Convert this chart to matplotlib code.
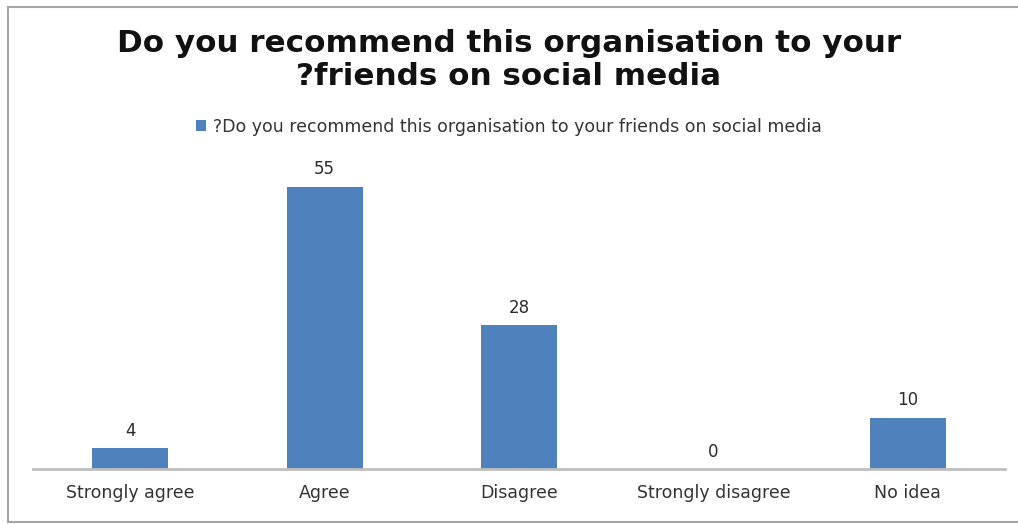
import matplotlib.pyplot as plt
from matplotlib.lines import Line2D

categories = ['Strongly agree', 'Agree', 'Disagree', 'Strongly disagree', 'No idea']
counts = [4, 55, 28, 0, 10]
series_name = '?Do you recommend this organisation to your friends on social media'
title = 'Do you recommend this organisation to your\n?friends on social media'

bar_color = '#4f81bd'

fig = plt.figure(figsize=(10.18, 5.24), dpi=100)
fig.patch.set_facecolor('white')

# chart frame: left, top and bottom edges
W, H = 1018, 524
for xs, ys in [([8, 8], [7, 522]), ([8, W], [7, 7]), ([8, W], [522, 522])]:
    fig.add_artist(Line2D([v / W for v in xs], [1 - v / H for v in ys],
                          transform=fig.transFigure, color='#a6a6a6', linewidth=1.5))

ax = fig.add_axes([33 / W, 1 - 469 / H, (1005 - 33) / W, 308 / H])
x = range(len(categories))
bars = ax.bar(x, counts, width=0.39, color=bar_color, label=series_name, zorder=2)
ax.set_xlim(-0.5, len(categories) - 0.5)
ax.set_ylim(0, 60)

for xi, v in zip(x, counts):
    ax.text(xi, v + 1.6, str(v), ha='center', va='bottom', fontsize=12,
            family='DejaVu Sans', color='#2b2b2b')

for s in ['top', 'right', 'left']:
    ax.spines[s].set_visible(False)
ax.spines['bottom'].set_color('#bfbfbf')
ax.spines['bottom'].set_linewidth(2)
ax.set_yticks([])
ax.set_xticks(list(x))
ax.set_xticklabels(categories, fontsize=12.5, family='DejaVu Sans', color='#333333')
ax.tick_params(axis='x', length=0, pad=11)

fig.text(0.5, 1 - 60 / H, title, ha='center', va='center', fontsize=22.3,
         fontweight='bold', family='DejaVu Sans', linespacing=1.2, color='#111111')

leg = fig.legend(handles=[bars], loc='center', bbox_to_anchor=(0.5, 1 - 127 / H),
                 frameon=False, prop={'family': 'DejaVu Sans', 'size': 12.5},
                 handlelength=0.6, handleheight=0.6, handletextpad=0.4)
for t in leg.get_texts():
    t.set_color('#333333')

fig.savefig('out.png', dpi=100)
